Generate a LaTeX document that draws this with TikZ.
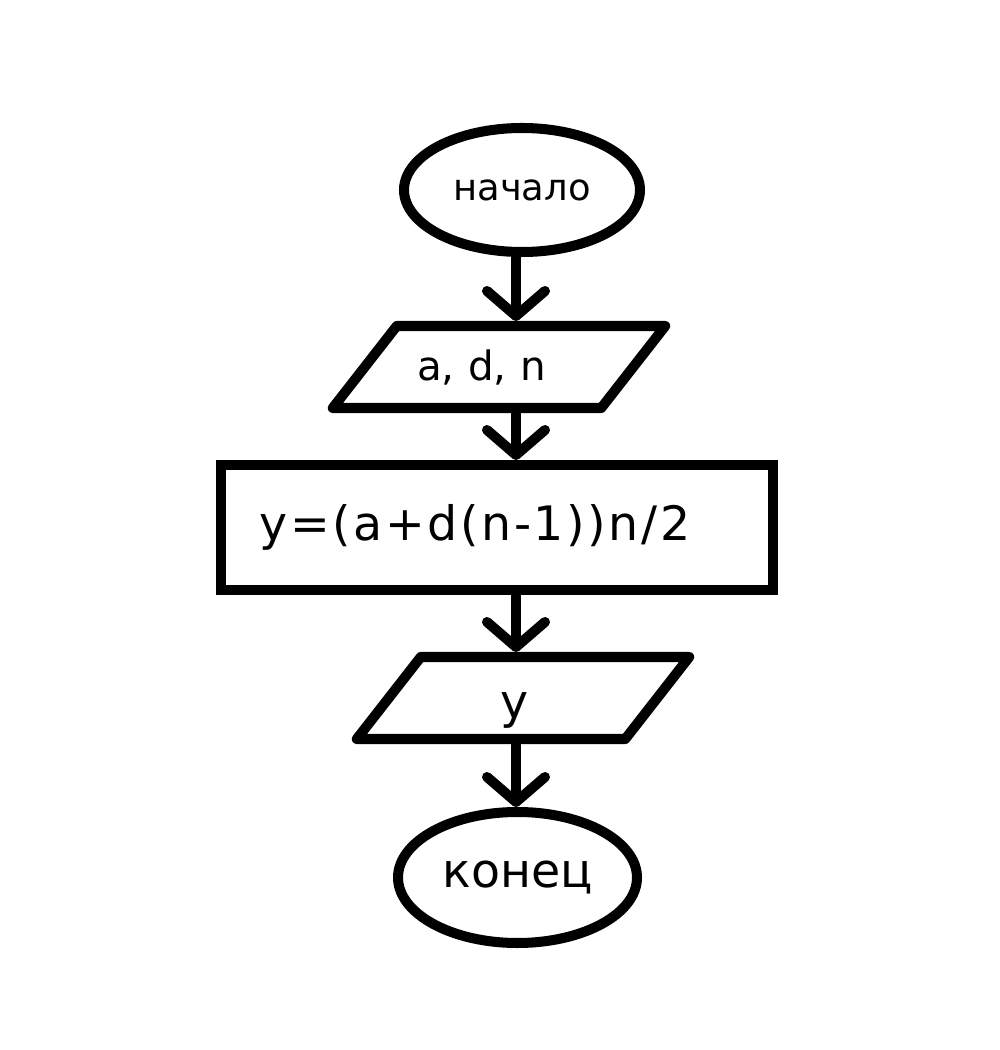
\documentclass[tikz,border=0pt]{standalone}
\usepackage{fontspec}
\setmainfont{DejaVu Sans}
\usetikzlibrary{shapes.geometric,arrows.meta}
\begin{document}
\begin{tikzpicture}
[terminal/.style={ellipse,draw,line width=5.7pt,inner sep=0pt},
io block/.style={rectangle,inner sep=0pt,outer sep=0pt,minimum width=5.37cm,minimum height=1.64cm,align=left},
io line/.style={line width=5.7pt,line join=round},
process block/.style={rectangle,draw,line width=5.7pt,inner sep=0pt},
flow/.style={line width=5.7pt,-{Straight Barb[length=0.5cm,width=1.16cm,round]}}]
\useasboundingbox (0,0) rectangle (20,21);
\node[terminal,minimum width=4.72cm,minimum height=2.48cm,
  font=\fontsize{21}{25}\selectfont] (start) at (10.44,17.2) {начало};
\node[io block,text width=3.28cm,
  font=\fontsize{23}{27}\selectfont] (input) at (9.98,13.66) {a, d, n};
\node[process block,minimum width=11.04cm,minimum height=2.5cm,text width=9.5cm,align=left,
  font=\fontsize{27}{32}\selectfont\addfontfeature{LetterSpace=5.5}] (sum) at (9.94,10.45) {y=(a+d(n-1))n/2};
\node[io block,text width=0.92cm,text height=1cm,
  font=\fontsize{27}{32}\selectfont] (output) at (10.46,7.04) {y};
\node[terminal,minimum width=4.78cm,minimum height=2.62cm,
  font=\fontsize{27}{32}\selectfont] (stop) at (10.35,3.45) {конец};
% slanted outlines of the input and output blocks
\foreach \blk in {input,output}
  \draw[io line] ([xshift=0.64cm]\blk.north west) -- ([xshift=0.64cm]\blk.north east)
    -- ([xshift=-0.64cm]\blk.south east) -- ([xshift=-0.64cm]\blk.south west) -- cycle;
% connectors down the middle
\coordinate (axis) at (10.32,0);
\draw[flow,shorten >=2.85pt] (axis |- start.south) -- (axis |- input.north);
\draw[flow] (axis |- input.south) -- (axis |- sum.north);
\draw[flow,shorten >=2.85pt] (axis |- sum.south) -- (axis |- output.north);
\draw[flow] (axis |- output.south) -- (axis |- stop.north);
\end{tikzpicture}
\end{document}
